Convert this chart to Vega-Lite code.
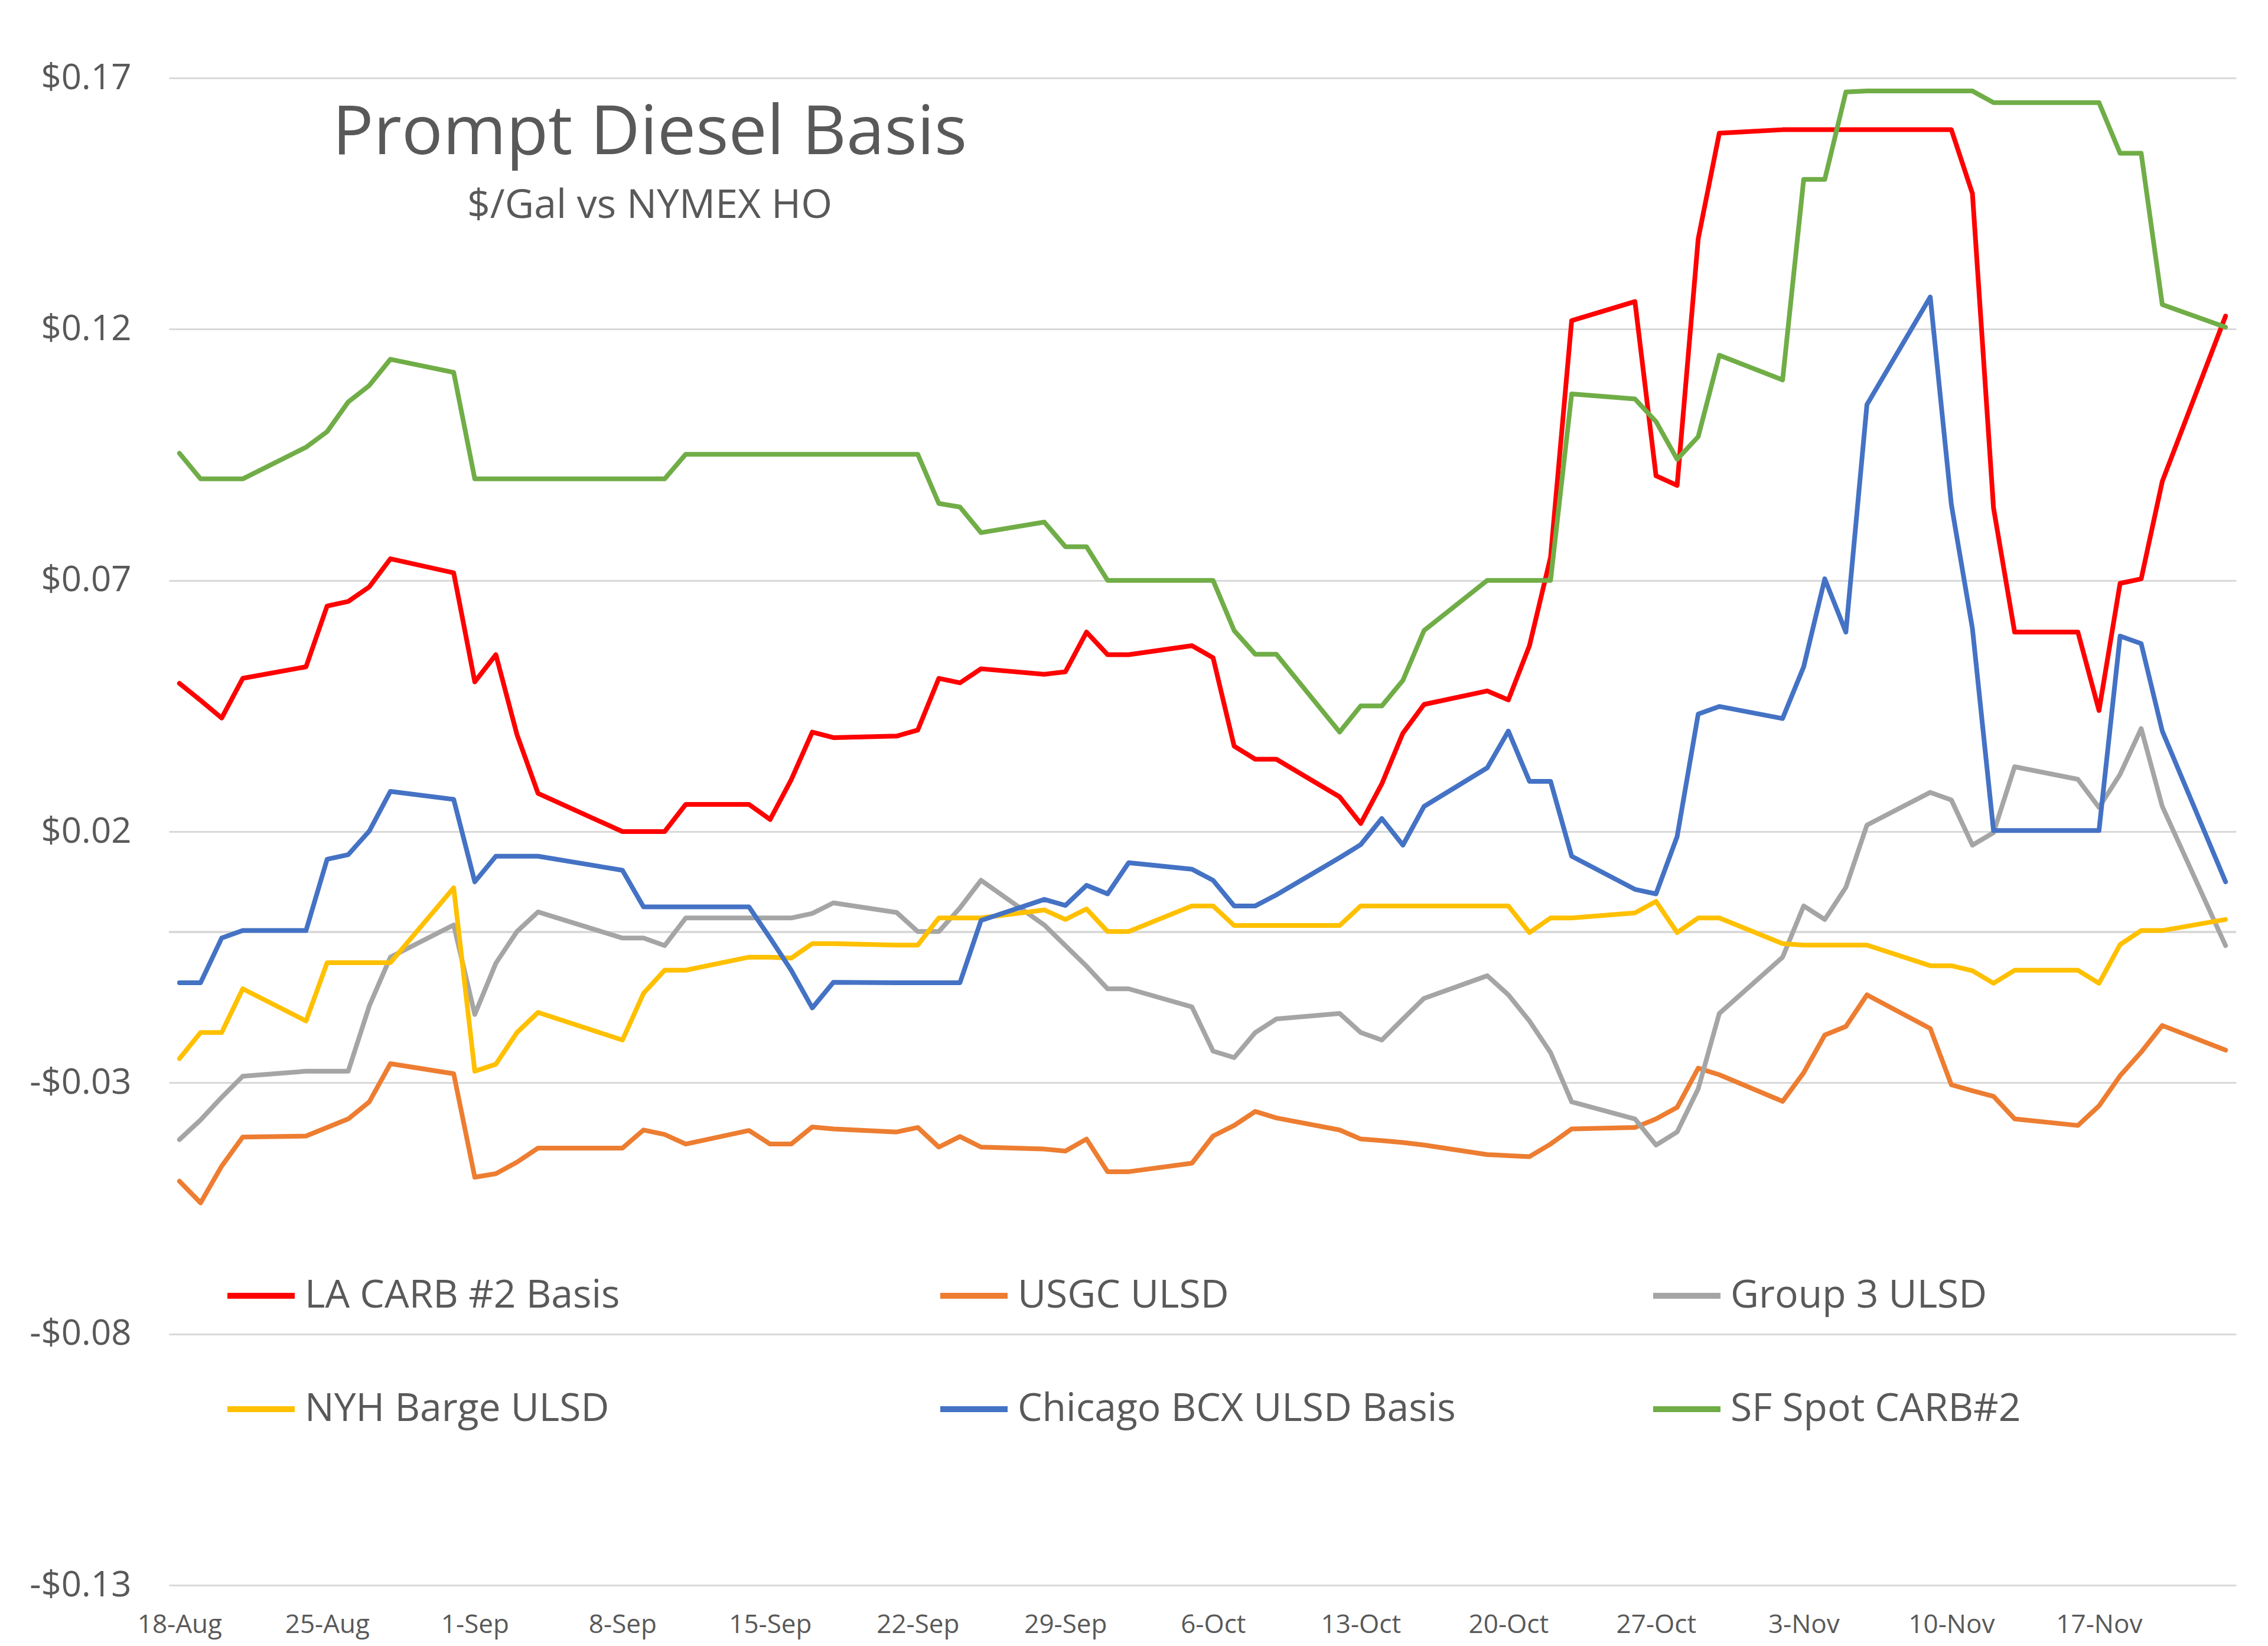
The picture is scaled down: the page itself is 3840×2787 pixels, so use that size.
{
"$schema": "https://vega.github.io/schema/vega-lite/v6.json",
"width": 3500, "height": 2552,
"autosize": {"type": "none"},
"padding": {"left": 286, "top": 132, "right": 54, "bottom": 103},
"background": "white",
"config": {"font": "Open Sans", "view": {"stroke": null}},
"title": {"text": "Prompt Diesel Basis", "subtitle": "$/Gal vs NYMEX HO", "anchor": "start", "align": "center", "frame": "group", "dx": 814, "dy": 286, "fontSize": 116, "subtitleFontSize": 68, "font": "Open Sans", "subtitleFont": "Open Sans", "fontWeight": "normal", "subtitleFontWeight": "normal", "color": "#595959", "subtitleColor": "#595959", "subtitlePadding": 30},
"data": {"values": [
{"date":"2020-08-18","series":"LA CARB #2 Basis","value":0.0495},{"date":"2020-08-19","series":"LA CARB #2 Basis","value":0.0461},{"date":"2020-08-20","series":"LA CARB #2 Basis","value":0.0426},{"date":"2020-08-21","series":"LA CARB #2 Basis","value":0.0505},
{"date":"2020-08-24","series":"LA CARB #2 Basis","value":0.0528},{"date":"2020-08-25","series":"LA CARB #2 Basis","value":0.0649},{"date":"2020-08-26","series":"LA CARB #2 Basis","value":0.0658},{"date":"2020-08-27","series":"LA CARB #2 Basis","value":0.0687},{"date":"2020-08-28","series":"LA CARB #2 Basis","value":0.0743},
{"date":"2020-08-31","series":"LA CARB #2 Basis","value":0.0715},{"date":"2020-09-01","series":"LA CARB #2 Basis","value":0.0498},{"date":"2020-09-02","series":"LA CARB #2 Basis","value":0.0552},{"date":"2020-09-03","series":"LA CARB #2 Basis","value":0.0393},{"date":"2020-09-04","series":"LA CARB #2 Basis","value":0.0276},
{"date":"2020-09-08","series":"LA CARB #2 Basis","value":0.0200},{"date":"2020-09-09","series":"LA CARB #2 Basis","value":0.0200},{"date":"2020-09-10","series":"LA CARB #2 Basis","value":0.0200},{"date":"2020-09-11","series":"LA CARB #2 Basis","value":0.0254},
{"date":"2020-09-14","series":"LA CARB #2 Basis","value":0.0254},{"date":"2020-09-15","series":"LA CARB #2 Basis","value":0.0224},{"date":"2020-09-16","series":"LA CARB #2 Basis","value":0.0303},{"date":"2020-09-17","series":"LA CARB #2 Basis","value":0.0398},{"date":"2020-09-18","series":"LA CARB #2 Basis","value":0.0387},
{"date":"2020-09-21","series":"LA CARB #2 Basis","value":0.0390},{"date":"2020-09-22","series":"LA CARB #2 Basis","value":0.0402},{"date":"2020-09-23","series":"LA CARB #2 Basis","value":0.0505},{"date":"2020-09-24","series":"LA CARB #2 Basis","value":0.0496},{"date":"2020-09-25","series":"LA CARB #2 Basis","value":0.0524},
{"date":"2020-09-28","series":"LA CARB #2 Basis","value":0.0513},{"date":"2020-09-29","series":"LA CARB #2 Basis","value":0.0518},{"date":"2020-09-30","series":"LA CARB #2 Basis","value":0.0597},{"date":"2020-10-01","series":"LA CARB #2 Basis","value":0.0552},{"date":"2020-10-02","series":"LA CARB #2 Basis","value":0.0552},
{"date":"2020-10-05","series":"LA CARB #2 Basis","value":0.0570},{"date":"2020-10-06","series":"LA CARB #2 Basis","value":0.0546},{"date":"2020-10-07","series":"LA CARB #2 Basis","value":0.0370},{"date":"2020-10-08","series":"LA CARB #2 Basis","value":0.0344},{"date":"2020-10-09","series":"LA CARB #2 Basis","value":0.0344},
{"date":"2020-10-12","series":"LA CARB #2 Basis","value":0.0269},{"date":"2020-10-13","series":"LA CARB #2 Basis","value":0.0216},{"date":"2020-10-14","series":"LA CARB #2 Basis","value":0.0295},{"date":"2020-10-15","series":"LA CARB #2 Basis","value":0.0396},{"date":"2020-10-16","series":"LA CARB #2 Basis","value":0.0453},
{"date":"2020-10-19","series":"LA CARB #2 Basis","value":0.0480},{"date":"2020-10-20","series":"LA CARB #2 Basis","value":0.0462},{"date":"2020-10-21","series":"LA CARB #2 Basis","value":0.0570},{"date":"2020-10-22","series":"LA CARB #2 Basis","value":0.0746},{"date":"2020-10-23","series":"LA CARB #2 Basis","value":0.1217},
{"date":"2020-10-26","series":"LA CARB #2 Basis","value":0.1255},{"date":"2020-10-27","series":"LA CARB #2 Basis","value":0.0908},{"date":"2020-10-28","series":"LA CARB #2 Basis","value":0.0889},{"date":"2020-10-29","series":"LA CARB #2 Basis","value":0.1380},{"date":"2020-10-30","series":"LA CARB #2 Basis","value":0.1590},
{"date":"2020-11-02","series":"LA CARB #2 Basis","value":0.1597},{"date":"2020-11-03","series":"LA CARB #2 Basis","value":0.1597},{"date":"2020-11-04","series":"LA CARB #2 Basis","value":0.1597},{"date":"2020-11-05","series":"LA CARB #2 Basis","value":0.1597},{"date":"2020-11-06","series":"LA CARB #2 Basis","value":0.1597},
{"date":"2020-11-09","series":"LA CARB #2 Basis","value":0.1597},{"date":"2020-11-10","series":"LA CARB #2 Basis","value":0.1597},{"date":"2020-11-11","series":"LA CARB #2 Basis","value":0.1470},{"date":"2020-11-12","series":"LA CARB #2 Basis","value":0.0844},{"date":"2020-11-13","series":"LA CARB #2 Basis","value":0.0597},
{"date":"2020-11-16","series":"LA CARB #2 Basis","value":0.0597},{"date":"2020-11-17","series":"LA CARB #2 Basis","value":0.0441},{"date":"2020-11-18","series":"LA CARB #2 Basis","value":0.0694},{"date":"2020-11-19","series":"LA CARB #2 Basis","value":0.0703},{"date":"2020-11-20","series":"LA CARB #2 Basis","value":0.0897},
{"date":"2020-11-23","series":"LA CARB #2 Basis","value":0.1226},

{"date":"2020-08-18","series":"USGC ULSD","value":-0.0496},{"date":"2020-08-19","series":"USGC ULSD","value":-0.0539},{"date":"2020-08-20","series":"USGC ULSD","value":-0.0466},{"date":"2020-08-21","series":"USGC ULSD","value":-0.0408},
{"date":"2020-08-24","series":"USGC ULSD","value":-0.0406},{"date":"2020-08-25","series":"USGC ULSD","value":-0.0389},{"date":"2020-08-26","series":"USGC ULSD","value":-0.0372},{"date":"2020-08-27","series":"USGC ULSD","value":-0.0338},{"date":"2020-08-28","series":"USGC ULSD","value":-0.0262},
{"date":"2020-08-31","series":"USGC ULSD","value":-0.0282},{"date":"2020-09-01","series":"USGC ULSD","value":-0.0488},{"date":"2020-09-02","series":"USGC ULSD","value":-0.0481},{"date":"2020-09-03","series":"USGC ULSD","value":-0.0458},{"date":"2020-09-04","series":"USGC ULSD","value":-0.0430},
{"date":"2020-09-08","series":"USGC ULSD","value":-0.0430},{"date":"2020-09-09","series":"USGC ULSD","value":-0.0394},{"date":"2020-09-10","series":"USGC ULSD","value":-0.0403},{"date":"2020-09-11","series":"USGC ULSD","value":-0.0422},
{"date":"2020-09-14","series":"USGC ULSD","value":-0.0395},{"date":"2020-09-15","series":"USGC ULSD","value":-0.0422},{"date":"2020-09-16","series":"USGC ULSD","value":-0.0422},{"date":"2020-09-17","series":"USGC ULSD","value":-0.0388},{"date":"2020-09-18","series":"USGC ULSD","value":-0.0392},
{"date":"2020-09-21","series":"USGC ULSD","value":-0.0398},{"date":"2020-09-22","series":"USGC ULSD","value":-0.0389},{"date":"2020-09-23","series":"USGC ULSD","value":-0.0428},{"date":"2020-09-24","series":"USGC ULSD","value":-0.0407},{"date":"2020-09-25","series":"USGC ULSD","value":-0.0428},
{"date":"2020-09-28","series":"USGC ULSD","value":-0.0432},{"date":"2020-09-29","series":"USGC ULSD","value":-0.0436},{"date":"2020-09-30","series":"USGC ULSD","value":-0.0412},{"date":"2020-10-01","series":"USGC ULSD","value":-0.0477},{"date":"2020-10-02","series":"USGC ULSD","value":-0.0477},
{"date":"2020-10-05","series":"USGC ULSD","value":-0.0460},{"date":"2020-10-06","series":"USGC ULSD","value":-0.0406},{"date":"2020-10-07","series":"USGC ULSD","value":-0.0385},{"date":"2020-10-08","series":"USGC ULSD","value":-0.0357},{"date":"2020-10-09","series":"USGC ULSD","value":-0.0370},
{"date":"2020-10-12","series":"USGC ULSD","value":-0.0394},{"date":"2020-10-13","series":"USGC ULSD","value":-0.0412},{"date":"2020-10-14","series":"USGC ULSD","value":-0.0415},{"date":"2020-10-15","series":"USGC ULSD","value":-0.0419},{"date":"2020-10-16","series":"USGC ULSD","value":-0.0424},
{"date":"2020-10-19","series":"USGC ULSD","value":-0.0443},{"date":"2020-10-20","series":"USGC ULSD","value":-0.0445},{"date":"2020-10-21","series":"USGC ULSD","value":-0.0447},{"date":"2020-10-22","series":"USGC ULSD","value":-0.0422},{"date":"2020-10-23","series":"USGC ULSD","value":-0.0392},
{"date":"2020-10-26","series":"USGC ULSD","value":-0.0389},{"date":"2020-10-27","series":"USGC ULSD","value":-0.0372},{"date":"2020-10-28","series":"USGC ULSD","value":-0.0349},{"date":"2020-10-29","series":"USGC ULSD","value":-0.0271},{"date":"2020-10-30","series":"USGC ULSD","value":-0.0284},
{"date":"2020-11-02","series":"USGC ULSD","value":-0.0337},{"date":"2020-11-03","series":"USGC ULSD","value":-0.0280},{"date":"2020-11-04","series":"USGC ULSD","value":-0.0205},{"date":"2020-11-05","series":"USGC ULSD","value":-0.0188},{"date":"2020-11-06","series":"USGC ULSD","value":-0.0125},
{"date":"2020-11-09","series":"USGC ULSD","value":-0.0192},{"date":"2020-11-10","series":"USGC ULSD","value":-0.0304},{"date":"2020-11-11","series":"USGC ULSD","value":-0.0316},{"date":"2020-11-12","series":"USGC ULSD","value":-0.0327},{"date":"2020-11-13","series":"USGC ULSD","value":-0.0372},
{"date":"2020-11-16","series":"USGC ULSD","value":-0.0385},{"date":"2020-11-17","series":"USGC ULSD","value":-0.0346},{"date":"2020-11-18","series":"USGC ULSD","value":-0.0286},{"date":"2020-11-19","series":"USGC ULSD","value":-0.0239},{"date":"2020-11-20","series":"USGC ULSD","value":-0.0186},
{"date":"2020-11-23","series":"USGC ULSD","value":-0.0235},

{"date":"2020-08-18","series":"Group 3 ULSD","value":-0.0413},{"date":"2020-08-19","series":"Group 3 ULSD","value":-0.0374},{"date":"2020-08-20","series":"Group 3 ULSD","value":-0.0329},{"date":"2020-08-21","series":"Group 3 ULSD","value":-0.0287},
{"date":"2020-08-24","series":"Group 3 ULSD","value":-0.0277},{"date":"2020-08-25","series":"Group 3 ULSD","value":-0.0277},{"date":"2020-08-26","series":"Group 3 ULSD","value":-0.0277},{"date":"2020-08-27","series":"Group 3 ULSD","value":-0.0147},{"date":"2020-08-28","series":"Group 3 ULSD","value":-0.0050},
{"date":"2020-08-31","series":"Group 3 ULSD","value":0.0014},{"date":"2020-09-01","series":"Group 3 ULSD","value":-0.0164},{"date":"2020-09-02","series":"Group 3 ULSD","value":-0.0062},{"date":"2020-09-03","series":"Group 3 ULSD","value":0.0001},{"date":"2020-09-04","series":"Group 3 ULSD","value":0.0040},
{"date":"2020-09-08","series":"Group 3 ULSD","value":-0.0012},{"date":"2020-09-09","series":"Group 3 ULSD","value":-0.0012},{"date":"2020-09-10","series":"Group 3 ULSD","value":-0.0027},{"date":"2020-09-11","series":"Group 3 ULSD","value":0.0028},
{"date":"2020-09-14","series":"Group 3 ULSD","value":0.0028},{"date":"2020-09-15","series":"Group 3 ULSD","value":0.0028},{"date":"2020-09-16","series":"Group 3 ULSD","value":0.0028},{"date":"2020-09-17","series":"Group 3 ULSD","value":0.0037},{"date":"2020-09-18","series":"Group 3 ULSD","value":0.0058},
{"date":"2020-09-21","series":"Group 3 ULSD","value":0.0039},{"date":"2020-09-22","series":"Group 3 ULSD","value":0.0001},{"date":"2020-09-23","series":"Group 3 ULSD","value":0.0001},{"date":"2020-09-24","series":"Group 3 ULSD","value":0.0048},{"date":"2020-09-25","series":"Group 3 ULSD","value":0.0103},
{"date":"2020-09-28","series":"Group 3 ULSD","value":0.0014},{"date":"2020-09-29","series":"Group 3 ULSD","value":-0.0027},{"date":"2020-09-30","series":"Group 3 ULSD","value":-0.0068},{"date":"2020-10-01","series":"Group 3 ULSD","value":-0.0113},{"date":"2020-10-02","series":"Group 3 ULSD","value":-0.0113},
{"date":"2020-10-05","series":"Group 3 ULSD","value":-0.0149},{"date":"2020-10-06","series":"Group 3 ULSD","value":-0.0237},{"date":"2020-10-07","series":"Group 3 ULSD","value":-0.0250},{"date":"2020-10-08","series":"Group 3 ULSD","value":-0.0200},{"date":"2020-10-09","series":"Group 3 ULSD","value":-0.0173},
{"date":"2020-10-12","series":"Group 3 ULSD","value":-0.0162},{"date":"2020-10-13","series":"Group 3 ULSD","value":-0.0200},{"date":"2020-10-14","series":"Group 3 ULSD","value":-0.0215},{"date":"2020-10-15","series":"Group 3 ULSD","value":-0.0173},{"date":"2020-10-16","series":"Group 3 ULSD","value":-0.0132},
{"date":"2020-10-19","series":"Group 3 ULSD","value":-0.0087},{"date":"2020-10-20","series":"Group 3 ULSD","value":-0.0125},{"date":"2020-10-21","series":"Group 3 ULSD","value":-0.0177},{"date":"2020-10-22","series":"Group 3 ULSD","value":-0.0240},{"date":"2020-10-23","series":"Group 3 ULSD","value":-0.0338},
{"date":"2020-10-26","series":"Group 3 ULSD","value":-0.0372},{"date":"2020-10-27","series":"Group 3 ULSD","value":-0.0424},{"date":"2020-10-28","series":"Group 3 ULSD","value":-0.0398},{"date":"2020-10-29","series":"Group 3 ULSD","value":-0.0312},{"date":"2020-10-30","series":"Group 3 ULSD","value":-0.0162},
{"date":"2020-11-02","series":"Group 3 ULSD","value":-0.0050},{"date":"2020-11-03","series":"Group 3 ULSD","value":0.0052},{"date":"2020-11-04","series":"Group 3 ULSD","value":0.0025},{"date":"2020-11-05","series":"Group 3 ULSD","value":0.0089},{"date":"2020-11-06","series":"Group 3 ULSD","value":0.0213},
{"date":"2020-11-09","series":"Group 3 ULSD","value":0.0278},{"date":"2020-11-10","series":"Group 3 ULSD","value":0.0263},{"date":"2020-11-11","series":"Group 3 ULSD","value":0.0173},{"date":"2020-11-12","series":"Group 3 ULSD","value":0.0198},{"date":"2020-11-13","series":"Group 3 ULSD","value":0.0329},
{"date":"2020-11-16","series":"Group 3 ULSD","value":0.0304},{"date":"2020-11-17","series":"Group 3 ULSD","value":0.0248},{"date":"2020-11-18","series":"Group 3 ULSD","value":0.0314},{"date":"2020-11-19","series":"Group 3 ULSD","value":0.0405},{"date":"2020-11-20","series":"Group 3 ULSD","value":0.0250},
{"date":"2020-11-23","series":"Group 3 ULSD","value":-0.0027},

{"date":"2020-08-18","series":"NYH Barge ULSD","value":-0.0252},{"date":"2020-08-19","series":"NYH Barge ULSD","value":-0.0200},{"date":"2020-08-20","series":"NYH Barge ULSD","value":-0.0200},{"date":"2020-08-21","series":"NYH Barge ULSD","value":-0.0113},
{"date":"2020-08-24","series":"NYH Barge ULSD","value":-0.0177},{"date":"2020-08-25","series":"NYH Barge ULSD","value":-0.0061},{"date":"2020-08-26","series":"NYH Barge ULSD","value":-0.0061},{"date":"2020-08-27","series":"NYH Barge ULSD","value":-0.0061},{"date":"2020-08-28","series":"NYH Barge ULSD","value":-0.0061},
{"date":"2020-08-31","series":"NYH Barge ULSD","value":0.0088},{"date":"2020-09-01","series":"NYH Barge ULSD","value":-0.0277},{"date":"2020-09-02","series":"NYH Barge ULSD","value":-0.0263},{"date":"2020-09-03","series":"NYH Barge ULSD","value":-0.0200},{"date":"2020-09-04","series":"NYH Barge ULSD","value":-0.0160},
{"date":"2020-09-08","series":"NYH Barge ULSD","value":-0.0215},{"date":"2020-09-09","series":"NYH Barge ULSD","value":-0.0122},{"date":"2020-09-10","series":"NYH Barge ULSD","value":-0.0076},{"date":"2020-09-11","series":"NYH Barge ULSD","value":-0.0076},
{"date":"2020-09-14","series":"NYH Barge ULSD","value":-0.0050},{"date":"2020-09-15","series":"NYH Barge ULSD","value":-0.0050},{"date":"2020-09-16","series":"NYH Barge ULSD","value":-0.0052},{"date":"2020-09-17","series":"NYH Barge ULSD","value":-0.0023},{"date":"2020-09-18","series":"NYH Barge ULSD","value":-0.0023},
{"date":"2020-09-21","series":"NYH Barge ULSD","value":-0.0026},{"date":"2020-09-22","series":"NYH Barge ULSD","value":-0.0026},{"date":"2020-09-23","series":"NYH Barge ULSD","value":0.0028},{"date":"2020-09-24","series":"NYH Barge ULSD","value":0.0028},{"date":"2020-09-25","series":"NYH Barge ULSD","value":0.0028},
{"date":"2020-09-28","series":"NYH Barge ULSD","value":0.0044},{"date":"2020-09-29","series":"NYH Barge ULSD","value":0.0025},{"date":"2020-09-30","series":"NYH Barge ULSD","value":0.0046},{"date":"2020-10-01","series":"NYH Barge ULSD","value":0.0001},{"date":"2020-10-02","series":"NYH Barge ULSD","value":0.0001},
{"date":"2020-10-05","series":"NYH Barge ULSD","value":0.0052},{"date":"2020-10-06","series":"NYH Barge ULSD","value":0.0052},{"date":"2020-10-07","series":"NYH Barge ULSD","value":0.0013},{"date":"2020-10-08","series":"NYH Barge ULSD","value":0.0013},{"date":"2020-10-09","series":"NYH Barge ULSD","value":0.0013},
{"date":"2020-10-12","series":"NYH Barge ULSD","value":0.0013},{"date":"2020-10-13","series":"NYH Barge ULSD","value":0.0052},{"date":"2020-10-14","series":"NYH Barge ULSD","value":0.0052},{"date":"2020-10-15","series":"NYH Barge ULSD","value":0.0052},{"date":"2020-10-16","series":"NYH Barge ULSD","value":0.0052},
{"date":"2020-10-19","series":"NYH Barge ULSD","value":0.0052},{"date":"2020-10-20","series":"NYH Barge ULSD","value":0.0052},{"date":"2020-10-21","series":"NYH Barge ULSD","value":-0.0001},{"date":"2020-10-22","series":"NYH Barge ULSD","value":0.0028},{"date":"2020-10-23","series":"NYH Barge ULSD","value":0.0028},
{"date":"2020-10-26","series":"NYH Barge ULSD","value":0.0038},{"date":"2020-10-27","series":"NYH Barge ULSD","value":0.0061},{"date":"2020-10-28","series":"NYH Barge ULSD","value":-0.0001},{"date":"2020-10-29","series":"NYH Barge ULSD","value":0.0028},{"date":"2020-10-30","series":"NYH Barge ULSD","value":0.0028},
{"date":"2020-11-02","series":"NYH Barge ULSD","value":-0.0023},{"date":"2020-11-03","series":"NYH Barge ULSD","value":-0.0026},{"date":"2020-11-04","series":"NYH Barge ULSD","value":-0.0026},{"date":"2020-11-05","series":"NYH Barge ULSD","value":-0.0026},{"date":"2020-11-06","series":"NYH Barge ULSD","value":-0.0026},
{"date":"2020-11-09","series":"NYH Barge ULSD","value":-0.0067},{"date":"2020-11-10","series":"NYH Barge ULSD","value":-0.0067},{"date":"2020-11-11","series":"NYH Barge ULSD","value":-0.0077},{"date":"2020-11-12","series":"NYH Barge ULSD","value":-0.0102},{"date":"2020-11-13","series":"NYH Barge ULSD","value":-0.0076},
{"date":"2020-11-16","series":"NYH Barge ULSD","value":-0.0076},{"date":"2020-11-17","series":"NYH Barge ULSD","value":-0.0102},{"date":"2020-11-18","series":"NYH Barge ULSD","value":-0.0025},{"date":"2020-11-19","series":"NYH Barge ULSD","value":0.0003},{"date":"2020-11-20","series":"NYH Barge ULSD","value":0.0003},
{"date":"2020-11-23","series":"NYH Barge ULSD","value":0.0025},

{"date":"2020-08-18","series":"Chicago BCX ULSD Basis","value":-0.0101},{"date":"2020-08-19","series":"Chicago BCX ULSD Basis","value":-0.0101},{"date":"2020-08-20","series":"Chicago BCX ULSD Basis","value":-0.0012},{"date":"2020-08-21","series":"Chicago BCX ULSD Basis","value":0.0003},
{"date":"2020-08-24","series":"Chicago BCX ULSD Basis","value":0.0003},{"date":"2020-08-25","series":"Chicago BCX ULSD Basis","value":0.0145},{"date":"2020-08-26","series":"Chicago BCX ULSD Basis","value":0.0154},{"date":"2020-08-27","series":"Chicago BCX ULSD Basis","value":0.0201},{"date":"2020-08-28","series":"Chicago BCX ULSD Basis","value":0.0280},
{"date":"2020-08-31","series":"Chicago BCX ULSD Basis","value":0.0264},{"date":"2020-09-01","series":"Chicago BCX ULSD Basis","value":0.0100},{"date":"2020-09-02","series":"Chicago BCX ULSD Basis","value":0.0151},{"date":"2020-09-03","series":"Chicago BCX ULSD Basis","value":0.0151},{"date":"2020-09-04","series":"Chicago BCX ULSD Basis","value":0.0151},
{"date":"2020-09-08","series":"Chicago BCX ULSD Basis","value":0.0123},{"date":"2020-09-09","series":"Chicago BCX ULSD Basis","value":0.0050},{"date":"2020-09-10","series":"Chicago BCX ULSD Basis","value":0.0050},{"date":"2020-09-11","series":"Chicago BCX ULSD Basis","value":0.0050},
{"date":"2020-09-14","series":"Chicago BCX ULSD Basis","value":0.0050},{"date":"2020-09-15","series":"Chicago BCX ULSD Basis","value":-0.0012},{"date":"2020-09-16","series":"Chicago BCX ULSD Basis","value":-0.0076},{"date":"2020-09-17","series":"Chicago BCX ULSD Basis","value":-0.0151},{"date":"2020-09-18","series":"Chicago BCX ULSD Basis","value":-0.0100},
{"date":"2020-09-21","series":"Chicago BCX ULSD Basis","value":-0.0101},{"date":"2020-09-22","series":"Chicago BCX ULSD Basis","value":-0.0101},{"date":"2020-09-23","series":"Chicago BCX ULSD Basis","value":-0.0101},{"date":"2020-09-24","series":"Chicago BCX ULSD Basis","value":-0.0101},{"date":"2020-09-25","series":"Chicago BCX ULSD Basis","value":0.0023},
{"date":"2020-09-28","series":"Chicago BCX ULSD Basis","value":0.0065},{"date":"2020-09-29","series":"Chicago BCX ULSD Basis","value":0.0053},{"date":"2020-09-30","series":"Chicago BCX ULSD Basis","value":0.0093},{"date":"2020-10-01","series":"Chicago BCX ULSD Basis","value":0.0076},{"date":"2020-10-02","series":"Chicago BCX ULSD Basis","value":0.0138},
{"date":"2020-10-05","series":"Chicago BCX ULSD Basis","value":0.0125},{"date":"2020-10-06","series":"Chicago BCX ULSD Basis","value":0.0103},{"date":"2020-10-07","series":"Chicago BCX ULSD Basis","value":0.0052},{"date":"2020-10-08","series":"Chicago BCX ULSD Basis","value":0.0052},{"date":"2020-10-09","series":"Chicago BCX ULSD Basis","value":0.0074},
{"date":"2020-10-12","series":"Chicago BCX ULSD Basis","value":0.0148},{"date":"2020-10-13","series":"Chicago BCX ULSD Basis","value":0.0174},{"date":"2020-10-14","series":"Chicago BCX ULSD Basis","value":0.0226},{"date":"2020-10-15","series":"Chicago BCX ULSD Basis","value":0.0173},{"date":"2020-10-16","series":"Chicago BCX ULSD Basis","value":0.0250},
{"date":"2020-10-19","series":"Chicago BCX ULSD Basis","value":0.0327},{"date":"2020-10-20","series":"Chicago BCX ULSD Basis","value":0.0400},{"date":"2020-10-21","series":"Chicago BCX ULSD Basis","value":0.0300},{"date":"2020-10-22","series":"Chicago BCX ULSD Basis","value":0.0300},{"date":"2020-10-23","series":"Chicago BCX ULSD Basis","value":0.0151},
{"date":"2020-10-26","series":"Chicago BCX ULSD Basis","value":0.0085},{"date":"2020-10-27","series":"Chicago BCX ULSD Basis","value":0.0076},{"date":"2020-10-28","series":"Chicago BCX ULSD Basis","value":0.0190},{"date":"2020-10-29","series":"Chicago BCX ULSD Basis","value":0.0434},{"date":"2020-10-30","series":"Chicago BCX ULSD Basis","value":0.0449},
{"date":"2020-11-02","series":"Chicago BCX ULSD Basis","value":0.0425},{"date":"2020-11-03","series":"Chicago BCX ULSD Basis","value":0.0528},{"date":"2020-11-04","series":"Chicago BCX ULSD Basis","value":0.0703},{"date":"2020-11-05","series":"Chicago BCX ULSD Basis","value":0.0597},{"date":"2020-11-06","series":"Chicago BCX ULSD Basis","value":0.1050},
{"date":"2020-11-09","series":"Chicago BCX ULSD Basis","value":0.1264},{"date":"2020-11-10","series":"Chicago BCX ULSD Basis","value":0.0851},{"date":"2020-11-11","series":"Chicago BCX ULSD Basis","value":0.0604},{"date":"2020-11-12","series":"Chicago BCX ULSD Basis","value":0.0202},{"date":"2020-11-13","series":"Chicago BCX ULSD Basis","value":0.0202},
{"date":"2020-11-16","series":"Chicago BCX ULSD Basis","value":0.0202},{"date":"2020-11-17","series":"Chicago BCX ULSD Basis","value":0.0202},{"date":"2020-11-18","series":"Chicago BCX ULSD Basis","value":0.0589},{"date":"2020-11-19","series":"Chicago BCX ULSD Basis","value":0.0574},{"date":"2020-11-20","series":"Chicago BCX ULSD Basis","value":0.0400},
{"date":"2020-11-23","series":"Chicago BCX ULSD Basis","value":0.0100},

{"date":"2020-08-18","series":"SF Spot CARB#2","value":0.0953},{"date":"2020-08-19","series":"SF Spot CARB#2","value":0.0902},{"date":"2020-08-20","series":"SF Spot CARB#2","value":0.0902},{"date":"2020-08-21","series":"SF Spot CARB#2","value":0.0902},
{"date":"2020-08-24","series":"SF Spot CARB#2","value":0.0965},{"date":"2020-08-25","series":"SF Spot CARB#2","value":0.0996},{"date":"2020-08-26","series":"SF Spot CARB#2","value":0.1055},{"date":"2020-08-27","series":"SF Spot CARB#2","value":0.1088},{"date":"2020-08-28","series":"SF Spot CARB#2","value":0.1140},
{"date":"2020-08-31","series":"SF Spot CARB#2","value":0.1114},{"date":"2020-09-01","series":"SF Spot CARB#2","value":0.0902},{"date":"2020-09-02","series":"SF Spot CARB#2","value":0.0902},{"date":"2020-09-03","series":"SF Spot CARB#2","value":0.0902},{"date":"2020-09-04","series":"SF Spot CARB#2","value":0.0902},
{"date":"2020-09-08","series":"SF Spot CARB#2","value":0.0902},{"date":"2020-09-09","series":"SF Spot CARB#2","value":0.0902},{"date":"2020-09-10","series":"SF Spot CARB#2","value":0.0902},{"date":"2020-09-11","series":"SF Spot CARB#2","value":0.0951},
{"date":"2020-09-14","series":"SF Spot CARB#2","value":0.0951},{"date":"2020-09-15","series":"SF Spot CARB#2","value":0.0951},{"date":"2020-09-16","series":"SF Spot CARB#2","value":0.0951},{"date":"2020-09-17","series":"SF Spot CARB#2","value":0.0951},{"date":"2020-09-18","series":"SF Spot CARB#2","value":0.0951},
{"date":"2020-09-21","series":"SF Spot CARB#2","value":0.0951},{"date":"2020-09-22","series":"SF Spot CARB#2","value":0.0951},{"date":"2020-09-23","series":"SF Spot CARB#2","value":0.0853},{"date":"2020-09-24","series":"SF Spot CARB#2","value":0.0846},{"date":"2020-09-25","series":"SF Spot CARB#2","value":0.0795},
{"date":"2020-09-28","series":"SF Spot CARB#2","value":0.0816},{"date":"2020-09-29","series":"SF Spot CARB#2","value":0.0767},{"date":"2020-09-30","series":"SF Spot CARB#2","value":0.0767},{"date":"2020-10-01","series":"SF Spot CARB#2","value":0.0700},{"date":"2020-10-02","series":"SF Spot CARB#2","value":0.0700},
{"date":"2020-10-05","series":"SF Spot CARB#2","value":0.0700},{"date":"2020-10-06","series":"SF Spot CARB#2","value":0.0700},{"date":"2020-10-07","series":"SF Spot CARB#2","value":0.0600},{"date":"2020-10-08","series":"SF Spot CARB#2","value":0.0553},{"date":"2020-10-09","series":"SF Spot CARB#2","value":0.0553},
{"date":"2020-10-12","series":"SF Spot CARB#2","value":0.0398},{"date":"2020-10-13","series":"SF Spot CARB#2","value":0.0450},{"date":"2020-10-14","series":"SF Spot CARB#2","value":0.0450},{"date":"2020-10-15","series":"SF Spot CARB#2","value":0.0501},{"date":"2020-10-16","series":"SF Spot CARB#2","value":0.0600},
{"date":"2020-10-19","series":"SF Spot CARB#2","value":0.0700},{"date":"2020-10-20","series":"SF Spot CARB#2","value":0.0700},{"date":"2020-10-21","series":"SF Spot CARB#2","value":0.0700},{"date":"2020-10-22","series":"SF Spot CARB#2","value":0.0700},{"date":"2020-10-23","series":"SF Spot CARB#2","value":0.1071},
{"date":"2020-10-26","series":"SF Spot CARB#2","value":0.1061},{"date":"2020-10-27","series":"SF Spot CARB#2","value":0.1016},{"date":"2020-10-28","series":"SF Spot CARB#2","value":0.0941},{"date":"2020-10-29","series":"SF Spot CARB#2","value":0.0986},{"date":"2020-10-30","series":"SF Spot CARB#2","value":0.1148},
{"date":"2020-11-02","series":"SF Spot CARB#2","value":0.1099},{"date":"2020-11-03","series":"SF Spot CARB#2","value":0.1498},{"date":"2020-11-04","series":"SF Spot CARB#2","value":0.1498},{"date":"2020-11-05","series":"SF Spot CARB#2","value":0.1672},{"date":"2020-11-06","series":"SF Spot CARB#2","value":0.1674},
{"date":"2020-11-09","series":"SF Spot CARB#2","value":0.1674},{"date":"2020-11-10","series":"SF Spot CARB#2","value":0.1674},{"date":"2020-11-11","series":"SF Spot CARB#2","value":0.1674},{"date":"2020-11-12","series":"SF Spot CARB#2","value":0.1651},{"date":"2020-11-13","series":"SF Spot CARB#2","value":0.1651},
{"date":"2020-11-16","series":"SF Spot CARB#2","value":0.1651},{"date":"2020-11-17","series":"SF Spot CARB#2","value":0.1651},{"date":"2020-11-18","series":"SF Spot CARB#2","value":0.1550},{"date":"2020-11-19","series":"SF Spot CARB#2","value":0.1550},{"date":"2020-11-20","series":"SF Spot CARB#2","value":0.1249},
{"date":"2020-11-23","series":"SF Spot CARB#2","value":0.1204}
]},
"layer": [
{"mark": {"type": "rule", "color": "#D9D9D9", "strokeWidth": 3},
 "encoding": {"y": {"datum": 0, "type": "quantitative"}}},
{"mark": {"type": "line", "strokeWidth": 8, "strokeJoin": "round", "strokeCap": "round"},
 "encoding": {
  "x": {"field": "date", "type": "temporal",
        "scale": {"type": "utc", "domain": [{"year": 2020, "month": 8, "date": 17, "hours": 12, "utc": true}, {"year": 2020, "month": 11, "date": 23, "hours": 12, "utc": true}]},
        "axis": {"title": null, "labelExpr": "utcFormat(datum.value, '%-d-%b')", "labelFontSize": 44, "labelColor": "#595959", "labelFont": "Open Sans", "labelPadding": 45, "ticks": false, "domain": false, "grid": false, "labelFlush": false, "labelOverlap": false, "labelAngle": 0,
                 "values": [{"year": 2020, "month": 8, "date": 18, "utc": true}, {"year": 2020, "month": 8, "date": 25, "utc": true}, {"year": 2020, "month": 9, "date": 1, "utc": true}, {"year": 2020, "month": 9, "date": 8, "utc": true}, {"year": 2020, "month": 9, "date": 15, "utc": true}, {"year": 2020, "month": 9, "date": 22, "utc": true}, {"year": 2020, "month": 9, "date": 29, "utc": true}, {"year": 2020, "month": 10, "date": 6, "utc": true}, {"year": 2020, "month": 10, "date": 13, "utc": true}, {"year": 2020, "month": 10, "date": 20, "utc": true}, {"year": 2020, "month": 10, "date": 27, "utc": true}, {"year": 2020, "month": 11, "date": 3, "utc": true}, {"year": 2020, "month": 11, "date": 10, "utc": true}, {"year": 2020, "month": 11, "date": 17, "utc": true}]}},
  "y": {"field": "value", "type": "quantitative",
        "scale": {"domain": [-0.13, 0.17], "nice": false, "zero": false},
        "axis": {"title": null, "values": [-0.13, -0.08, -0.03, 0.02, 0.07, 0.12, 0.17], "labelExpr": "(datum.value < 0 ? '-' : '') + '$' + format(abs(datum.value), '.2f')", "labelFontSize": 60, "labelColor": "#595959", "labelFont": "Open Sans", "labelPadding": 64, "ticks": false, "domain": false, "grid": true, "gridColor": "#D9D9D9", "gridWidth": 3}},
  "color": {"field": "series", "type": "nominal",
        "scale": {"domain": ["LA CARB #2 Basis", "USGC ULSD", "Group 3 ULSD", "NYH Barge ULSD", "Chicago BCX ULSD Basis", "SF Spot CARB#2"], "range": ["#FF0000", "#ED7D31", "#A5A5A5", "#FFC000", "#4472C4", "#70AD47"]},
        "legend": {"title": null, "orient": "none", "legendX": 94, "legendY": 2000, "direction": "horizontal", "columns": 3, "gridAlign": "all", "columnPadding": 314, "rowPadding": 97, "symbolType": "stroke", "symbolSize": 12996, "symbolStrokeWidth": 10, "labelFontSize": 66, "labelFont": "Open Sans", "labelColor": "#595959", "labelOffset": 12, "labelLimit": 3000, "padding": 0}}
 }}
]
}
